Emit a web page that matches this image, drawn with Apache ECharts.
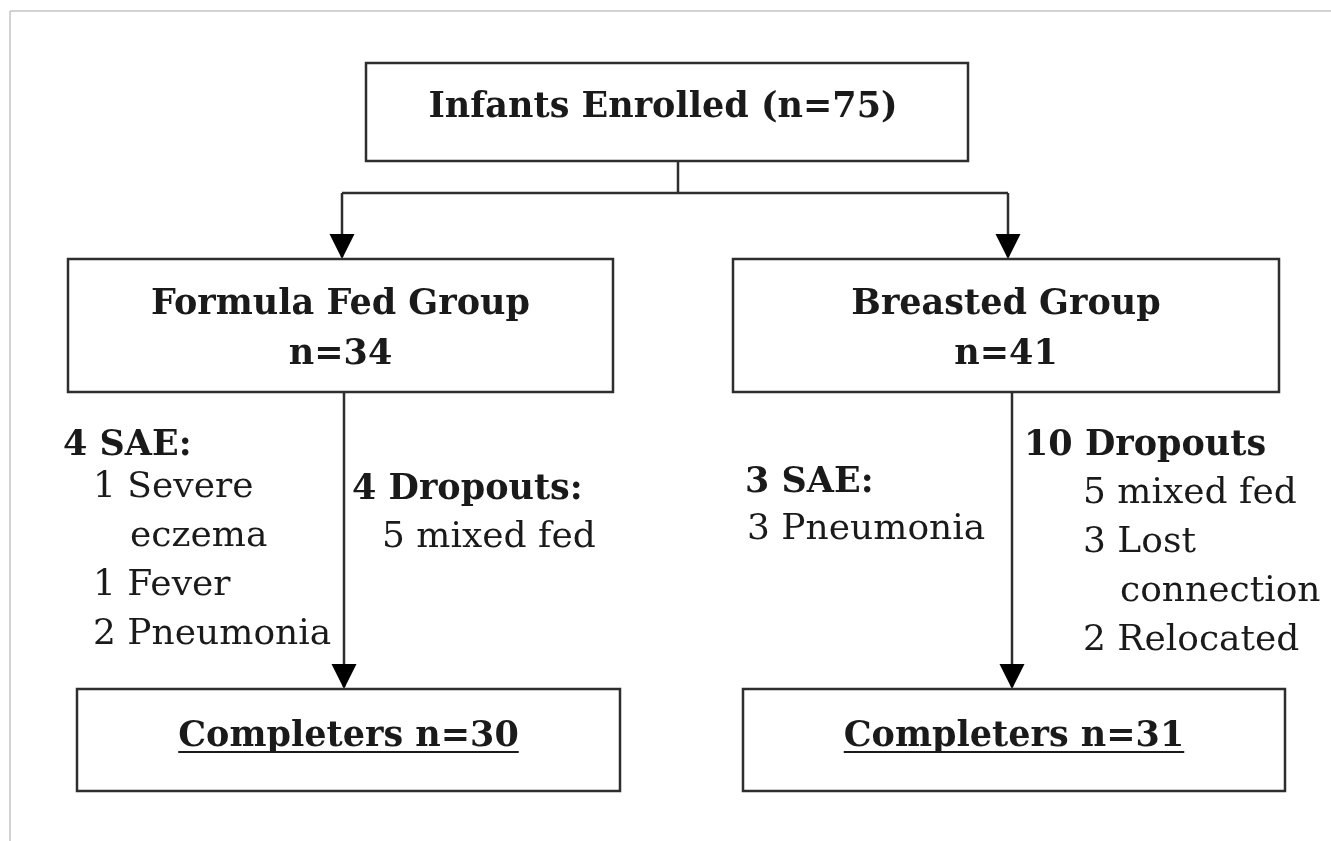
<!DOCTYPE html>
<html>
<head>
<meta charset="utf-8">
<script src="https://cdn.jsdelivr.net/npm/echarts@6/dist/echarts.min.js"></script>
<style>
html,body{margin:0;padding:0;background:#fff;}
#chart{width:1331px;height:841px;}
</style>
</head>
<body>
<div id="chart"></div>
<script>
// ---- data ----
const enrolledLabel = 'Infants Enrolled';
const enrolledN = 75;
const groupNames = ['Formula Fed Group', 'Breasted Group'];
const groupN = [34, 41];
const saeCounts = [4, 3];
const saeItems = [
  [['1 Severe', 'eczema'], ['1 Fever'], ['2 Pneumonia']],
  [['3 Pneumonia']]
];
const dropoutCounts = [4, 10];
const dropoutTitles = ['4 Dropouts:', '10 Dropouts'];
const dropoutItems = [
  [['5 mixed fed']],
  [['5 mixed fed'], ['3 Lost', 'connection'], ['2 Relocated']]
];
const completersN = [30, 31];

// ---- layout & style ----
const BOLD = 'bold 35px "DejaVu Serif"';
const REG = '36px "DejaVu Serif"';
const INK = '#1a1a1a';
const LINE = '#2e2e2e';
const LW = 2.5;
const topBox = {x: 366, y: 63, w: 602, h: 98};
const groupBoxes = [{x: 68, y: 259, w: 545, h: 133}, {x: 733, y: 259, w: 546, h: 133}];
const endBoxes = [{x: 77, y: 689, w: 543, h: 102}, {x: 743, y: 689, w: 542, h: 102}];
const armTopX = [342, 1008];
const armBotX = [344, 1012];
const splitY = 193;
const saePos = [{x: 63, y: 446, ix: 93, iy: 488}, {x: 745, y: 483, ix: 747, iy: 530}];
const dropPos = [{x: 352, y: 490, ix: 382, iy: 538}, {x: 1024, y: 446, ix: 1083, iy: 494}];
const lineStep = 49, contIndent = 37;

const els = [];
function box(b) {
  els.push({type: 'rect', shape: {x: b.x, y: b.y, width: b.w, height: b.h},
    style: {fill: '#fff', stroke: LINE, lineWidth: LW}});
}
function txt(s, x, y, font, align) {
  els.push({type: 'text', x: x, y: y, style: {text: s, font: font, fill: INK,
    align: align || 'left', verticalAlign: 'middle'}});
}
function line(x1, y1, x2, y2, c, w) {
  els.push({type: 'line', shape: {x1: x1, y1: y1, x2: x2, y2: y2},
    style: {stroke: c || LINE, lineWidth: w || LW}});
}
function arrow(x, yTip) {
  els.push({type: 'polygon', shape: {points: [[x - 12.5, yTip - 25], [x + 12.5, yTip - 25], [x, yTip]]},
    style: {fill: '#000'}});
}
function items(list, x, y) {
  let k = 0;
  list.forEach(function (it) {
    it.forEach(function (l, j) {
      txt(l, x + (j > 0 ? contIndent : 0), y + k * lineStep, REG);
      k++;
    });
  });
}

// frame
line(10, 11, 1331, 11, '#c4c4c4', 1.5);
line(10, 11, 10, 841, '#c4c4c4', 1.5);

// connectors
const cx = topBox.x + topBox.w / 2;
line(cx + 11, topBox.y + topBox.h, cx + 11, splitY);
line(armTopX[0], splitY, armTopX[1], splitY);
[0, 1].forEach(function (i) {
  line(armTopX[i], splitY, armTopX[i], groupBoxes[i].y - 2);
  arrow(armTopX[i], groupBoxes[i].y);
  line(armBotX[i], groupBoxes[i].y + groupBoxes[i].h, armBotX[i], endBoxes[i].y - 2);
  arrow(armBotX[i], endBoxes[i].y);
});

// boxes
box(topBox);
txt(enrolledLabel + ' (n=' + enrolledN + ')', cx - 4, topBox.y + 45, BOLD, 'center');
[0, 1].forEach(function (i) {
  const g = groupBoxes[i];
  box(g);
  txt(groupNames[i], g.x + g.w / 2, 305, BOLD, 'center');
  txt('n=' + groupN[i], g.x + g.w / 2, 355, BOLD, 'center');
  const e = endBoxes[i];
  box(e);
  const s = 'Completers n=' + completersN[i];
  txt(s, e.x + e.w / 2, 737, BOLD, 'center');
  // side notes
  txt(saeCounts[i] + ' SAE:', saePos[i].x, saePos[i].y, BOLD);
  items(saeItems[i], saePos[i].ix, saePos[i].iy);
  txt(dropoutTitles[i], dropPos[i].x, dropPos[i].y, BOLD);
  items(dropoutItems[i], dropPos[i].ix, dropPos[i].iy);
});

// underlines sized to the measured label width
const cv = document.createElement('canvas').getContext('2d');
cv.font = BOLD;
[0, 1].forEach(function (i) {
  const e = endBoxes[i];
  const s = 'Completers n=' + completersN[i];
  const w = cv.measureText(s).width;
  const c = e.x + e.w / 2;
  line(c - w / 2, 752, c + w / 2, 752, INK, 2);
});

const chart = echarts.init(document.getElementById('chart'), null, {renderer: 'canvas'});
chart.setOption({animation: false, graphic: {elements: els}});
</script>
</body>
</html>
